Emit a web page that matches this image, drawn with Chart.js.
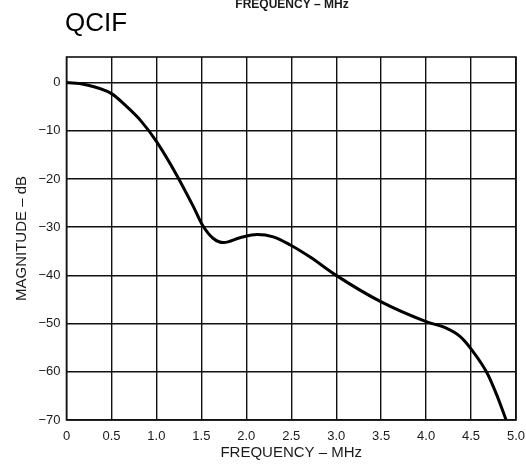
<!DOCTYPE html>
<html>
<head>
<meta charset="utf-8">
<script src="https://cdn.jsdelivr.net/npm/chart.js@4"></script>
<style>
  body { margin: 0; background: #fff; }
  canvas { display: block; }
</style>
</head>
<body>
<canvas id="chart" width="526" height="464"></canvas>
<script>
// values
const freqMHz = [0, 0.2, 0.5, 0.67, 0.83, 1.0, 1.22, 1.41, 1.51, 1.63, 1.75, 1.93, 2.12, 2.30, 2.49, 2.71, 3.0, 3.49, 4.0, 4.23, 4.38, 4.51, 4.68, 4.79, 4.89];
const magnitudeDb = [0, -0.4, -2.3, -5, -8, -12.2, -19, -25.7, -29.5, -32.3, -33.2, -32.2, -31.5, -32, -33.7, -36.2, -40, -45.4, -49.6, -51, -52.7, -55.5, -60.3, -65, -70];
const xTicks = [0, 0.5, 1.0, 1.5, 2.0, 2.5, 3.0, 3.5, 4.0, 4.5, 5.0];
const yTicks = [0, -10, -20, -30, -40, -50, -60, -70];

const textColor = '#1a1a1a';
const font = 'Liberation Sans, Arial, Helvetica, sans-serif';

const extras = {
  id: 'extras',
  afterDraw(chart) {
    const ctx = chart.ctx;
    const a = chart.chartArea;
    ctx.save();
    ctx.strokeStyle = '#111';
    ctx.lineWidth = 1.6;
    ctx.strokeRect(a.left, a.top, a.right - a.left, a.bottom - a.top);

    ctx.fillStyle = '#000';
    ctx.font = '26px ' + font;
    ctx.textAlign = 'left';
    ctx.textBaseline = 'alphabetic';
    ctx.fillText('QCIF', 65, 31);

    // cut-off caption at the very top
    ctx.fillStyle = textColor;
    ctx.font = 'bold 12px ' + font;
    ctx.textAlign = 'center';
    ctx.fillText('FREQUENCY \u2013 MHz', 292, 8);
    ctx.restore();
  }
};

new Chart(document.getElementById('chart'), {
  type: 'line',
  data: {
    datasets: [{
      data: freqMHz.map((f, i) => ({ x: f, y: magnitudeDb[i] })),
      borderColor: '#000',
      borderWidth: 3,
      pointRadius: 0,
      cubicInterpolationMode: 'monotone',
      fill: false
    }]
  },
  options: {
    responsive: false,
    animation: false,
    layout: { padding: { top: 57, right: 0, left: 0, bottom: 0 } },
    plugins: { legend: { display: false }, tooltip: { enabled: false } },
    scales: {
      x: {
        type: 'linear',
        min: 0,
        max: 5,
        afterBuildTicks: s => { s.ticks = xTicks.map(v => ({ value: v })); },
        afterFit: s => { s.height = 44; s.paddingRight = 10; },
        grid: { color: '#111', lineWidth: 1.4, drawTicks: false },
        border: { display: false },
        ticks: {
          padding: 9,
          color: textColor,
          font: { family: font, size: 13 },
          maxRotation: 0,
          callback: v => v === 0 ? '0' : v.toFixed(1)
        },
        title: {
          display: true,
          text: 'FREQUENCY \u2013 MHz',
          color: textColor,
          font: { family: font, size: 15 },
          padding: { top: 0, bottom: 2 }
        }
      },
      y: {
        min: -70,
        max: 5.3,
        afterBuildTicks: s => { s.ticks = yTicks.map(v => ({ value: v })); },
        afterFit: s => { s.width = 66.5; },
        grid: { color: '#111', lineWidth: 1.4, drawTicks: false },
        border: { display: false },
        ticks: {
          padding: 6,
          color: textColor,
          font: { family: font, size: 13 },
          callback: v => v === 0 ? '0' : '\u2212' + Math.abs(v)
        },
        title: {
          display: true,
          text: 'MAGNITUDE \u2013 dB',
          color: textColor,
          font: { family: font, size: 15 },
          padding: { top: 13, bottom: 0 }
        }
      }
    }
  },
  plugins: [extras]
});
</script>
</body>
</html>
